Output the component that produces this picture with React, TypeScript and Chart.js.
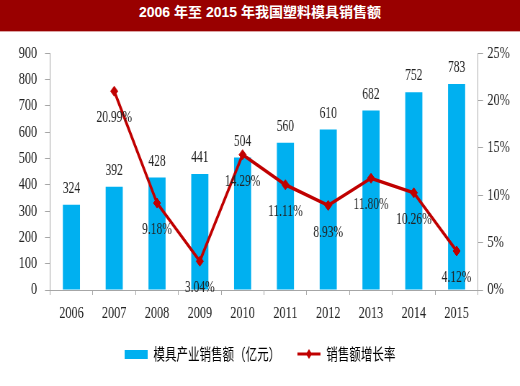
import React, { useEffect, useRef } from "react";
import { Chart, registerables } from "chart.js";

Chart.register(...registerables);

const titleText = "2006 年至 2015 年我国塑料模具销售额";
const years = ["2006", "2007", "2008", "2009", "2010", "2011", "2012", "2013", "2014", "2015"];
const salesValues = [324, 392, 428, 441, 504, 560, 610, 682, 752, 783];
const growthRates: (number | null)[] = [null, 20.99, 9.18, 3.04, 14.29, 11.11, 8.93, 11.8, 10.26, 4.12];
const salesLabel = "模具产业销售额（亿元）";
const growthLabel = "销售额增长率";
const leftTicks = { min: 0, max: 900, step: 100 };
const rightTicks = { min: 0, max: 25, step: 5 };

const BAR_COLOR = "#00B0F0";
const LINE_COLOR = "#C00000";
const AXIS_COLOR = "#a6a6a6";
const TEXT_COLOR = "#222222";
const SERIF = '"Liberation Serif", "Times New Roman", serif';
const CJK = '"Noto Sans CJK SC", "Liberation Sans", sans-serif';

const W = 722; // logical width, squeezed to 520 px
const S = 520 / W;
const H = 354;

function makeBarSwatch() {
  const c = document.createElement("canvas");
  c.width = 32;
  c.height = 9;
  const g = c.getContext("2d")!;
  g.fillStyle = BAR_COLOR;
  g.fillRect(0, 0, 32, 9);
  return c;
}

function makeLineSwatch() {
  const c = document.createElement("canvas");
  c.width = 32;
  c.height = 12;
  const g = c.getContext("2d")!;
  g.strokeStyle = LINE_COLOR;
  g.lineWidth = 3;
  g.beginPath();
  g.moveTo(0, 6);
  g.lineTo(32, 6);
  g.stroke();
  g.fillStyle = LINE_COLOR;
  g.beginPath();
  g.moveTo(16, 1);
  g.lineTo(20, 6);
  g.lineTo(16, 11);
  g.lineTo(12, 6);
  g.closePath();
  g.fill();
  return c;
}

const valueLabels = {
  id: "valueLabels",
  afterDatasetsDraw(chart: any) {
    const ctx = chart.ctx;
    ctx.save();
    ctx.fillStyle = TEXT_COLOR;
    ctx.font = `16px ${SERIF}`;
    ctx.textAlign = "center";
    const barMeta = chart.getDatasetMeta(0);
    barMeta.data.forEach((el: any, i: number) => {
      ctx.textBaseline = "bottom";
      ctx.fillText(String(salesValues[i]), el.x, el.y - 8);
    });
    const lineMeta = chart.getDatasetMeta(1);
    lineMeta.data.forEach((el: any, i: number) => {
      const v = growthRates[i];
      if (v == null) return;
      ctx.textBaseline = "middle";
      ctx.fillText(v.toFixed(2) + "%", el.x, el.y + 27);
    });
    ctx.restore();
  },
};

export default function App() {
  const canvasRef = useRef<HTMLCanvasElement | null>(null);

  useEffect(() => {
    const canvas = canvasRef.current;
    if (!canvas) return;
    const barSwatch = makeBarSwatch();
    const lineSwatch = makeLineSwatch();
    const tickFont = { family: SERIF, size: 17 };
    const chart = new Chart(canvas, {
      type: "bar",
      data: {
        labels: years,
        datasets: [
          {
            type: "bar",
            label: salesLabel,
            data: salesValues,
            backgroundColor: BAR_COLOR,
            barPercentage: 0.4,
            categoryPercentage: 1.0,
            yAxisID: "y",
            order: 1,
          },
          {
            type: "line",
            label: growthLabel,
            data: growthRates,
            borderColor: LINE_COLOR,
            backgroundColor: LINE_COLOR,
            borderWidth: 3.5,
            pointStyle: "rectRot",
            pointRadius: 5,
            pointBackgroundColor: LINE_COLOR,
            pointBorderColor: LINE_COLOR,
            pointBorderWidth: 1,
            tension: 0,
            yAxisID: "y1",
            order: 0,
          } as any,
        ],
      },
      options: {
        animation: false,
        responsive: true,
        maintainAspectRatio: false,
        layout: { padding: { top: 18, bottom: 14, left: 0, right: 0 } },
        plugins: {
          title: { display: false },
          tooltip: { enabled: false },
          legend: {
            display: true,
            position: "bottom",
            labels: {
              usePointStyle: true,
              pointStyleWidth: 32,
              padding: 16,
              color: "#262626",
              font: { family: CJK, size: 16 },
              generateLabels: () => [
                {
                  text: salesLabel + "\u3000",
                  fillStyle: BAR_COLOR,
                  strokeStyle: BAR_COLOR,
                  lineWidth: 0,
                  pointStyle: barSwatch as any,
                  hidden: false,
                  datasetIndex: 0,
                },
                {
                  text: growthLabel,
                  fillStyle: LINE_COLOR,
                  strokeStyle: LINE_COLOR,
                  lineWidth: 0,
                  pointStyle: lineSwatch as any,
                  hidden: false,
                  datasetIndex: 1,
                },
              ],
            },
          },
        },
        scales: {
          x: {
            type: "category",
            offset: true,
            grid: {
              offset: true,
              drawOnChartArea: false,
              drawTicks: true,
              tickLength: 5,
              color: AXIS_COLOR,
            },
            border: { display: true, color: AXIS_COLOR, width: 1 },
            ticks: { font: tickFont, color: TEXT_COLOR, padding: 8, maxRotation: 0, autoSkip: false },
            afterFit: (s: any) => {
              s.height = 40;
            },
          },
          y: {
            type: "linear",
            position: "left",
            min: leftTicks.min,
            max: leftTicks.max,
            grid: { drawOnChartArea: false, drawTicks: true, tickLength: 7, color: AXIS_COLOR },
            border: { display: true, color: AXIS_COLOR, width: 1 },
            ticks: { stepSize: leftTicks.step, font: tickFont, color: TEXT_COLOR, padding: 11 },
            afterFit: (s: any) => {
              s.width = 50 / S;
            },
          },
          y1: {
            type: "linear",
            position: "right",
            min: rightTicks.min,
            max: rightTicks.max,
            grid: { drawOnChartArea: false, drawTicks: true, tickLength: 7, color: AXIS_COLOR },
            border: { display: true, color: AXIS_COLOR, width: 1 },
            ticks: {
              stepSize: rightTicks.step,
              font: tickFont,
              color: TEXT_COLOR,
              padding: 6,
              callback: (v: any) => `${v}%`,
            },
            afterFit: (s: any) => {
              s.width = W - 478 / S;
            },
          },
        },
      },
      plugins: [valueLabels],
    });
    return () => chart.destroy();
  }, []);

  return (
    <div
      style={{
        position: "fixed",
        left: 0,
        top: 0,
        width: 520,
        height: 386,
        overflow: "hidden",
        background: "#ffffff",
      }}
    >
      <div
        style={{
          position: "absolute",
          left: 0,
          top: 0,
          width: 520,
          height: 31,
          background: "#990000",
          borderBottom: "1px solid #dba3a3",
          color: "#ffffff",
          fontFamily: '"Liberation Sans", "Noto Sans CJK SC", sans-serif',
          fontWeight: "bold",
          fontSize: 14,
          lineHeight: "25px",
          textAlign: "center",
          whiteSpace: "pre",
        }}
      >
        {titleText}
      </div>
      <div
        style={{
          position: "absolute",
          left: 0,
          top: 32,
          width: W,
          height: H,
          transform: `scaleX(${S})`,
          transformOrigin: "0 0",
        }}
      >
        <canvas ref={canvasRef} />
      </div>
    </div>
  );
}
